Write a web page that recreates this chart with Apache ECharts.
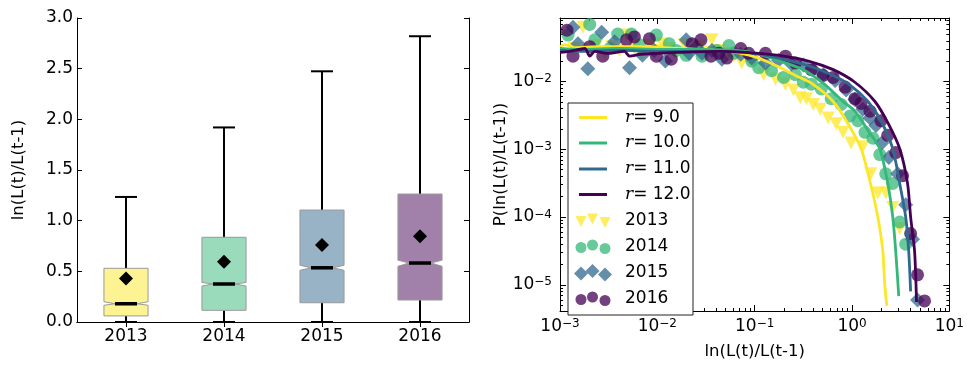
<!DOCTYPE html>
<html>
<head>
<meta charset="utf-8">
<title>ln(L(t)/L(t-1))</title>
<script src="https://cdn.jsdelivr.net/npm/echarts@6/dist/echarts.min.js"></script>
<style>
  html, body { margin: 0; padding: 0; background: #fff; }
  #chart { width: 967px; height: 365px; }
</style>
</head>
<body>
<div id="chart"></div>
<script>
// ---- Left panel: yearly distribution of ln(L(t)/L(t-1)) ----
const years = ['2013', '2014', '2015', '2016'];
const whiskerLow = [0, 0, 0, 0];
const q1 = [0.06, 0.115, 0.19, 0.217];
const notchLow = [0.165, 0.355, 0.51, 0.55];
const median = [0.18, 0.375, 0.535, 0.582];
const notchHigh = [0.20, 0.39, 0.56, 0.61];
const q3 = [0.53, 0.836, 1.105, 1.263];
const whiskerHigh = [1.234, 1.92, 2.474, 2.82];
const means = [0.43, 0.595, 0.76, 0.846];

// ---- Right panel: fitted curves ----
const fitLabels = ['9.0', '10.0', '11.0', '12.0'];
const fitR9 = [
  [0.00100, 0.0328], [0.00112, 0.0351], [0.00142, 0.0318], [0.00256, 0.0328], [0.00655, 0.0328],
  [0.01675, 0.0308], [0.0429, 0.0288], [0.0809, 0.0253], [0.118, 0.0214], [0.176, 0.0165],
  [0.262, 0.0123], [0.382, 0.00946], [0.640, 0.00508], [0.910, 0.00239], [1.24, 0.00102],
  [1.53, 0.000335], [1.84, 1.0e-4], [2.07, 3.17e-5], [2.17, 1.0e-5], [2.28, 4.89e-6]
];
const fitR10 = [
  [0.00100, 0.0308], [0.0016, 0.0298], [0.00409, 0.0308], [0.01047, 0.0298], [0.02685, 0.0298],
  [0.0809, 0.0279], [0.129, 0.0237], [0.207, 0.0188], [0.316, 0.0150], [0.506, 0.00946],
  [0.809, 0.00508], [1.07, 0.00366], [1.46, 0.00190], [1.93, 0.00102], [2.33, 0.000313],
  [2.62, 1.0e-4], [2.81, 3.17e-5], [3.02, 6.79e-6]
];
const fitR11 = [
  [0.00100, 0.0288], [0.0016, 0.0279], [0.00409, 0.0288], [0.01047, 0.0279], [0.02685, 0.0279],
  [0.0809, 0.0270], [0.176, 0.0222], [0.356, 0.0171], [0.640, 0.0123], [0.955, 0.00886],
  [1.46, 0.00508], [1.98, 0.00264], [2.62, 0.00102], [3.09, 0.000313], [3.56, 1.0e-4],
  [3.82, 3.17e-5], [4.00, 8.0e-6]
];
const fitR12 = [
  [0.00100, 0.0270], [0.00126, 0.0279], [0.00180, 0.0308], [0.00202, 0.0237], [0.00228, 0.0279],
  [0.00309, 0.0261], [0.00460, 0.0279], [0.00518, 0.0237], [0.00672, 0.0253], [0.0100, 0.0261],
  [0.01675, 0.0270], [0.0429, 0.0279], [0.0809, 0.0270], [0.176, 0.0244], [0.356, 0.0201],
  [0.640, 0.0150], [1.07, 0.00977], [1.72, 0.00508], [2.33, 0.00247], [3.09, 0.00102],
  [3.72, 0.000313], [4.00, 1.0e-4], [4.39, 3.17e-5], [4.60, 5.57e-6]
];

// ---- Right panel: observed distributions ----
const obs2013 = [
  [0.00139, 0.0308], [0.00172, 0.0632], [0.00202, 0.0288], [0.00239, 0.0340], [0.00288, 0.0261],
  [0.00340, 0.0328], [0.00409, 0.0288], [0.00483, 0.0486], [0.00582, 0.0308], [0.00687, 0.0261],
  [0.00828, 0.0340], [0.00977, 0.0288], [0.01125, 0.0362], [0.01325, 0.0308], [0.01563, 0.0261],
  [0.01888, 0.0351], [0.02223, 0.0288], [0.02685, 0.0328], [0.0309, 0.0270], [0.0364, 0.0413],
  [0.0429, 0.0288], [0.0518, 0.0261], [0.0610, 0.0237], [0.0736, 0.0188], [0.0931, 0.0188],
  [0.124, 0.0127], [0.164, 0.0108], [0.207, 0.00916], [0.250, 0.00752], [0.294, 0.00578],
  [0.340, 0.00560], [0.400, 0.00460], [0.471, 0.00391], [0.569, 0.00291], [0.687, 0.00239],
  [0.809, 0.00178], [0.977, 0.00124], [1.29, 0.00109], [1.56, 0.000435], [1.84, 0.000226],
  [2.22, 0.000226], [2.62, 0.000138], [3.09, 6.73e-5]
];
const obs2014 = [
  [0.00121, 0.0486], [0.00202, 0.0698], [0.00228, 0.0413], [0.00324, 0.0308], [0.00391, 0.0502],
  [0.00543, 0.0502], [0.00655, 0.0351], [0.00977, 0.0486], [0.01325, 0.0362], [0.01563, 0.0288],
  [0.0198, 0.0244], [0.0288, 0.0237], [0.0409, 0.0288], [0.0543, 0.0340], [0.0610, 0.0261],
  [0.0931, 0.0201], [0.110, 0.0160], [0.149, 0.0145], [0.198, 0.0115], [0.262, 0.0127],
  [0.316, 0.00977], [0.382, 0.00916], [0.483, 0.00777], [0.611, 0.00560], [0.773, 0.00460],
  [0.955, 0.00310], [1.15, 0.00264], [1.36, 0.00178], [1.64, 0.00146], [1.93, 0.000837],
  [2.22, 0.000435], [2.62, 0.000313], [3.09, 8.45e-5], [3.56, 3.98e-5]
];
const obs2015 = [
  [0.00136, 0.0632], [0.00153, 0.0362], [0.00193, 0.0155], [0.00268, 0.0537], [0.00364, 0.0386],
  [0.00518, 0.0160], [0.00703, 0.0244], [0.00931, 0.0288], [0.01208, 0.0201], [0.0198, 0.0413],
  [0.0212, 0.0261], [0.0250, 0.0328], [0.0288, 0.0261], [0.0364, 0.0288], [0.0460, 0.0214],
  [0.0719, 0.0253], [0.0931, 0.0222], [0.129, 0.0188], [0.176, 0.0207], [0.239, 0.0182],
  [0.316, 0.0176], [0.400, 0.0150], [0.506, 0.0127], [0.671, 0.0104], [0.869, 0.00752],
  [1.07, 0.00542], [1.29, 0.00391], [1.53, 0.00291], [1.76, 0.00224], [2.02, 0.00124],
  [2.39, 0.000760], [2.95, 0.000435], [3.56, 0.000152], [4.19, 4.69e-5], [4.71, 5.96e-6]
];
const obs2016 = [
  [0.00118, 0.0573], [0.00136, 0.0237], [0.00202, 0.0328], [0.00275, 0.0237], [0.00483, 0.0413],
  [0.00582, 0.0456], [0.00828, 0.0427], [0.00977, 0.0237], [0.0139, 0.0214], [0.0228, 0.0362],
  [0.0281, 0.0413], [0.0356, 0.0237], [0.0429, 0.0261], [0.0518, 0.0222], [0.0719, 0.0308],
  [0.0869, 0.0261], [0.129, 0.0261], [0.207, 0.0237], [0.262, 0.0188], [0.382, 0.0150],
  [0.506, 0.0123], [0.640, 0.0115], [0.849, 0.00830], [1.07, 0.00560], [1.24, 0.00475],
  [1.53, 0.00366], [1.98, 0.00264], [2.33, 0.00161], [2.81, 0.000895], [3.31, 0.000407],
  [4.00, 5.71e-5], [4.71, 1.40e-5], [5.56, 5.77e-6]
];

// ---- Axis tick values ----
const xMajor = [1e-3, 1e-2, 1e-1, 1, 10];
const yMajor = [1e-5, 1e-4, 1e-3, 1e-2];

const FONT = 'DejaVu Sans';
const TICK_FS = 17;
const TITLE_FS = 16.5;
const COLORS = ['#fde725', '#35b779', '#31688e', '#440154'];

function rgba(hex, a) {
  const n = parseInt(hex.slice(1), 16);
  return 'rgba(' + (n >> 16) + ',' + ((n >> 8) & 255) + ',' + (n & 255) + ',' + a + ')';
}

// minor ticks 2..9 x 10^k that fall inside [lo, hi]
function minorTicks(lo, hi) {
  const out = [];
  for (let e = Math.floor(Math.log10(lo)); e <= Math.ceil(Math.log10(hi)); e++) {
    for (let m = 2; m <= 9; m++) {
      const v = m * Math.pow(10, e);
      if (v > lo && v < hi) out.push(v);
    }
  }
  return out;
}

const X_MIN = 1e-3, X_MAX = 10;
const Y_MIN = 4.1e-6, Y_MAX = 0.0868;

function powLabel(v) {
  const e = Math.round(Math.log10(v));
  return '{b|10}{s|' + (e < 0 ? '\u2212' : '') + Math.abs(e) + '}';
}
const powRich = {
  b: { fontSize: TICK_FS, fontFamily: FONT, color: '#000' },
  s: { fontSize: 12, fontFamily: FONT, color: '#000', verticalAlign: 'top' }
};

const chart = echarts.init(document.getElementById('chart'), null, { renderer: 'canvas' });

const boxData = years.map((y, i) => [i, whiskerLow[i], q1[i], notchLow[i], median[i], notchHigh[i], q3[i], whiskerHigh[i]]);

function renderNotchedBox(params, api) {
  const i = api.value(0);
  const band = api.size([1, 0])[0];
  const w = band * 0.45;
  const cx = api.coord([i, 0])[0];
  const Y = v => api.coord([i, v])[1];
  const L = cx - w / 2, R = cx + w / 2, inset = w / 4, cap = w / 4;
  const lo = api.value(1), a = api.value(2), nl = api.value(3), md = api.value(4),
        nh = api.value(5), b = api.value(6), hi = api.value(7);
  const black = { stroke: '#000', lineWidth: 2 };
  return {
    type: 'group',
    children: [
      { type: 'line', shape: { x1: cx, y1: Y(a), x2: cx, y2: Y(lo) }, style: black },
      { type: 'line', shape: { x1: cx, y1: Y(b), x2: cx, y2: Y(hi) }, style: black },
      { type: 'line', shape: { x1: cx - cap, y1: Y(hi), x2: cx + cap, y2: Y(hi) }, style: black },
      { type: 'line', shape: { x1: cx - cap, y1: Y(lo), x2: cx + cap, y2: Y(lo) }, style: black },
      {
        type: 'polygon',
        shape: { points: [
          [L, Y(a)], [L, Y(nl)], [L + inset, Y(md)], [L, Y(nh)], [L, Y(b)],
          [R, Y(b)], [R, Y(nh)], [R - inset, Y(md)], [R, Y(nl)], [R, Y(a)]
        ] },
        style: { fill: rgba(COLORS[i], 0.5), stroke: '#9a9a9a', lineWidth: 1 }
      },
      { type: 'line', shape: { x1: L + inset, y1: Y(md), x2: R - inset, y2: Y(md) },
        style: { stroke: '#000', lineWidth: 3.5 } }
    ]
  };
}

const lineSeries = [fitR9, fitR10, fitR11, fitR12].map((d, k) => ({
  name: 'r=' + fitLabels[k],
  type: 'line',
  xAxisIndex: 2, yAxisIndex: 2,
  data: d,
  showSymbol: false,
  smooth: 0.25,
  lineStyle: { color: COLORS[k], width: 2.8 },
  z: 10,
  silent: true
}));

const obsSymbols = [
  { symbol: 'triangle', size: 13, rotate: 180 },
  { symbol: 'circle', size: 13, rotate: 0 },
  { symbol: 'diamond', size: 15, rotate: 0 },
  { symbol: 'circle', size: 13, rotate: 0 }
];
const scatterSeries = [obs2013, obs2014, obs2015, obs2016].map((d, k) => ({
  name: years[k],
  type: 'scatter',
  xAxisIndex: 2, yAxisIndex: 2,
  data: d,
  symbol: obsSymbols[k].symbol,
  symbolSize: obsSymbols[k].size,
  symbolRotate: obsSymbols[k].rotate,
  itemStyle: { color: COLORS[k], opacity: 0.75 },
  z: 5,
  silent: true
}));

// ---- Legend drawn as graphic elements ----
const legendRows = [117.5, 143, 169, 194.5, 221, 247, 273, 299];
const legendEls = [{
  type: 'rect', shape: { x: 568, y: 103, width: 125, height: 212 },
  style: { fill: '#fff', stroke: '#222', lineWidth: 1 }
}];
fitLabels.forEach((lab, k) => {
  const y = legendRows[k];
  legendEls.push({ type: 'line', shape: { x1: 579, y1: y, x2: 607, y2: y },
    style: { stroke: COLORS[k], lineWidth: 3 } });
  legendEls.push({ type: 'text', x: 625, y: y,
    style: {
      text: '{i|r}{n|= ' + lab + '}',
      verticalAlign: 'middle',
      rich: {
        i: { fontFamily: 'DejaVu Serif', fontStyle: 'italic', fontSize: TICK_FS, fill: '#000' },
        n: { fontFamily: FONT, fontSize: TICK_FS, fill: '#000' }
      }
    } });
});
const mxs = [581, 592.5, 605], mdy = [0.5, -2, 1.5];
years.forEach((yr, k) => {
  const y = legendRows[4 + k];
  const fill = rgba(COLORS[k], 0.75);
  mxs.forEach((cx, j) => {
    const cy = y + mdy[j];
    if (k === 0) {
      const s = 11;
      legendEls.push({ type: 'polygon', shape: { points: [[cx - s / 2, cy - s / 2], [cx + s / 2, cy - s / 2], [cx, cy + s / 2]] }, style: { fill } });
    } else if (k === 2) {
      const s = 14;
      legendEls.push({ type: 'polygon', shape: { points: [[cx, cy - s / 2], [cx + s / 2, cy], [cx, cy + s / 2], [cx - s / 2, cy]] }, style: { fill } });
    } else {
      legendEls.push({ type: 'circle', shape: { cx, cy, r: 5.5 }, style: { fill } });
    }
  });
  legendEls.push({ type: 'text', x: 625, y: y,
    style: { text: yr, fontFamily: FONT, fontSize: TICK_FS, fill: '#000', verticalAlign: 'middle' } });
});

const axisLineBlack = { show: true, lineStyle: { color: '#000', width: 1 } };
const noLabel = { show: false };

function logXAxis(position, ticks, len, labels, extra) {
  return Object.assign({
    type: 'log', gridIndex: 1, position, min: X_MIN, max: X_MAX,
    axisLine: labels !== null ? axisLineBlack : { show: false },
    axisTick: { show: true, inside: true, length: len, customValues: ticks, lineStyle: { color: '#000' } },
    axisLabel: labels || noLabel,
    splitLine: { show: false }, minorTick: { show: false }
  }, extra || {});
}
function logYAxis(position, ticks, len, labels, extra) {
  return Object.assign({
    type: 'log', gridIndex: 1, position, min: Y_MIN, max: Y_MAX,
    axisLine: labels !== null ? axisLineBlack : { show: false },
    axisTick: { show: true, inside: true, length: len, customValues: ticks, lineStyle: { color: '#000' } },
    axisLabel: labels || noLabel,
    splitLine: { show: false }, minorTick: { show: false }
  }, extra || {});
}

const xMinor = minorTicks(X_MIN, X_MAX);
const yMinor = minorTicks(Y_MIN, Y_MAX);
const titleStyle = { fontSize: TITLE_FS, color: '#000', fontFamily: FONT };

const option = {
  backgroundColor: '#fff',
  animation: false,
  textStyle: { fontFamily: FONT },
  grid: [
    { left: 77, right: 498, top: 18, bottom: 43 },
    { left: 560, right: 15, top: 18, bottom: 43 }
  ],
  xAxis: [
    {
      type: 'category', gridIndex: 0, position: 'bottom', data: years, boundaryGap: true,
      axisLine: axisLineBlack,
      axisTick: { show: true, inside: true, alignWithLabel: true, length: 5, lineStyle: { color: '#000' } },
      axisLabel: { fontSize: TICK_FS, color: '#000', fontFamily: FONT, margin: 6 },
      splitLine: { show: false }
    },
    {
      type: 'category', gridIndex: 0, position: 'top', data: years, boundaryGap: true,
      axisLine: axisLineBlack,
      axisTick: { show: true, inside: true, alignWithLabel: true, length: 5, lineStyle: { color: '#000' } },
      axisLabel: noLabel, splitLine: { show: false }
    },
    logXAxis('bottom', xMajor, 6, {
      show: true, customValues: xMajor, formatter: powLabel, rich: powRich, margin: 7
    }, {
      name: 'ln(L(t)/L(t-1)', nameLocation: 'middle', nameGap: 32, nameTextStyle: titleStyle
    }),
    logXAxis('top', xMajor, 6, noLabel),
    logXAxis('bottom', xMinor, 3, null),
    logXAxis('top', xMinor, 3, null)
  ],
  yAxis: [
    {
      type: 'value', gridIndex: 0, position: 'left', min: 0, max: 3, interval: 0.5,
      axisLine: axisLineBlack,
      axisTick: { show: true, inside: true, length: 5, lineStyle: { color: '#000' } },
      axisLabel: { fontSize: TICK_FS, color: '#000', fontFamily: FONT, margin: 4, formatter: v => v.toFixed(1) },
      splitLine: { show: false },
      name: 'ln(L(t)/L(t-1)', nameLocation: 'middle', nameGap: 50, nameTextStyle: titleStyle
    },
    {
      type: 'value', gridIndex: 0, position: 'right', min: 0, max: 3, interval: 0.5,
      axisLine: axisLineBlack,
      axisTick: { show: true, inside: true, length: 5, lineStyle: { color: '#000' } },
      axisLabel: noLabel, splitLine: { show: false }
    },
    logYAxis('left', yMajor, 6, {
      show: true, customValues: yMajor, formatter: powLabel, rich: powRich, margin: 8
    }, {
      name: 'P(ln(L(t)/L(t-1))', nameLocation: 'middle', nameGap: 42, nameTextStyle: titleStyle
    }),
    logYAxis('right', yMajor, 6, noLabel),
    logYAxis('left', yMinor, 3, null),
    logYAxis('right', yMinor, 3, null)
  ],
  series: [
    {
      type: 'custom', name: 'box', xAxisIndex: 0, yAxisIndex: 0,
      data: boxData, renderItem: renderNotchedBox,
      encode: { x: 0, y: [1, 2, 3, 4, 5, 6, 7] }, silent: true, z: 2
    },
    {
      type: 'scatter', name: 'mean', xAxisIndex: 0, yAxisIndex: 0,
      data: means.map((m, i) => [i, m]),
      symbol: 'diamond', symbolSize: 14,
      itemStyle: { color: '#000', opacity: 1 }, z: 5, silent: true
    }
  ].concat(scatterSeries, lineSeries),
  graphic: { elements: legendEls.map(e => Object.assign({ z: 100 }, e)) }
};

chart.setOption(option);
</script>
</body>
</html>
